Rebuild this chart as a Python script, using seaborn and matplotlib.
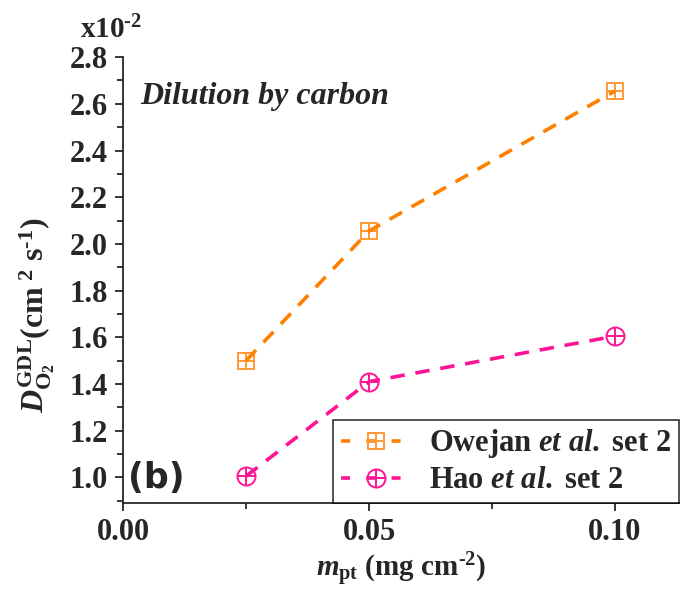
import seaborn as sns
import pandas as pd
from matplotlib import pyplot as plt
from matplotlib.lines import Line2D
from matplotlib.ticker import MultipleLocator

# data (y in units of 1e-2 cm^2 s^-1)
m_pt = [0.025, 0.05, 0.10]
owejan = [1.50, 2.055, 2.655]
hao = [1.005, 1.41, 1.605]
series_names = ['Owejan $\\it{et\\ al.}$ set 2', 'Hao $\\it{et\\ al.}$ set 2']

df = pd.DataFrame({'m': m_pt * 2,
                   'D': owejan + hao,
                   'set': [series_names[0]] * 3 + [series_names[1]] * 3})

sns.set_style('ticks')
plt.rcParams['font.family'] = ['Liberation Serif', 'DejaVu Serif']
plt.rcParams['font.weight'] = 'bold'
plt.rcParams['axes.labelweight'] = 'bold'
plt.rcParams['mathtext.fontset'] = 'custom'
plt.rcParams['mathtext.rm'] = 'Liberation Serif:bold'
plt.rcParams['mathtext.it'] = 'Liberation Serif:bold:italic'
plt.rcParams['mathtext.bf'] = 'Liberation Serif:bold'

orange = '#FF8000'
orange_mk = '#FF9933'
pink = '#FF1493'
colors = [orange, pink]

fig = plt.figure(figsize=(6.8, 5.89), dpi=100)
ax = fig.add_axes([0.181, 0.146, 0.819, 0.757])

# markers first, dashed lines on top (as in the reference)
ax.plot(m_pt, owejan, ls='none', marker='s', ms=11, mfc='none', mec=orange_mk, mew=1.4, zorder=1.5)
ax.plot(m_pt, owejan, ls='none', marker='+', ms=11, mec=orange_mk, mew=1.4, zorder=1.5)
ax.plot(m_pt, hao, ls='none', marker='o', ms=13, mfc='none', mec=pink, mew=1.4, zorder=1.5)
ax.plot(m_pt, hao, ls='none', marker='+', ms=13, mec=pink, mew=1.4, zorder=1.5)

sns.lineplot(data=df, x='m', y='D', hue='set', palette=colors, ax=ax,
             linewidth=2.6, legend=False, zorder=2)
for c in ax.lines[4:]:
    c.set_dashes([4, 3])

# legend handles
h1 = (Line2D([], [], color=orange, ls=(0, (2.5, 4.5)), lw=2.6),
      Line2D([], [], ls='none', marker='s', ms=11, mfc='none', mec=orange_mk, mew=1.4),
      Line2D([], [], ls='none', marker='+', ms=11, mec=orange_mk, mew=1.4))
h2 = (Line2D([], [], color=pink, ls=(0, (2.5, 4.5)), lw=2.6),
      Line2D([], [], ls='none', marker='o', ms=13, mfc='none', mec=pink, mew=1.4),
      Line2D([], [], ls='none', marker='+', ms=13, mec=pink, mew=1.4))
leg = ax.legend([h1, h2], series_names, loc='lower left', bbox_to_anchor=(0.377, 0.0),
                fontsize=22, frameon=True, fancybox=False, edgecolor='black',
                handlelength=2.3, handletextpad=0.6, borderaxespad=0, borderpad=0.25,
                labelspacing=0.2)
leg.get_frame().set_linewidth(1.2)

ax.set_xlim(0, 0.1132)
ax.set_ylim(0.89, 2.8)
ax.xaxis.set_major_locator(MultipleLocator(0.05))
ax.xaxis.set_minor_locator(MultipleLocator(0.025))
ax.yaxis.set_major_locator(MultipleLocator(0.2))
ax.yaxis.set_minor_locator(MultipleLocator(0.1))
ax.xaxis.set_major_formatter(lambda v, p: f'{v:.2f}')
ax.yaxis.set_major_formatter(lambda v, p: f'{v:.1f}')
ax.tick_params(axis='both', which='major', labelsize=22, length=6, width=1.3,
               direction='out', pad=5)
ax.tick_params(axis='both', which='minor', length=4, width=1.3, direction='out')
for lab in ax.get_xticklabels() + ax.get_yticklabels():
    lab.set_fontweight('bold')

sns.despine(ax=ax)
ax.spines['left'].set_linewidth(1.3)
ax.spines['bottom'].set_linewidth(1.3)

ax.set_xlabel('$m_{\\rm pt}$ (mg cm$^{\\text{-2}}$)', fontsize=21, fontweight='bold', labelpad=2)
ax.set_ylabel('$D^{\\rm GDL}_{\\rm O_2}$(cm$^{\\text{ 2}}$ s$^{\\text{-1}}$)', fontsize=23,
              fontweight='bold')
ax.yaxis.set_label_coords(-0.118, 0.42)

ax.text(0.0035, 2.60, 'Dilution by carbon', fontsize=23, style='italic', fontweight='bold')
ax.text(0.001, 0.995, '(b)', fontsize=25, fontweight='bold', family='DejaVu Sans', va='center')
fig.text(0.118, 0.935, 'x10$^{\\text{-2}}$', fontsize=21, fontweight='bold')

fig.savefig('out.png', dpi=100)
